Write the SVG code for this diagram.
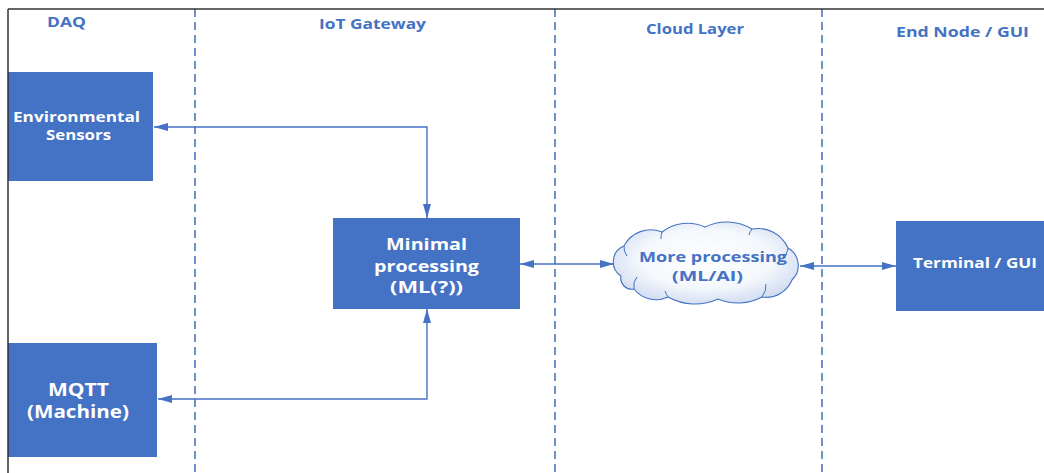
<svg xmlns="http://www.w3.org/2000/svg" width="1044" height="473" viewBox="0 0 1044 473">
  <style>
    .lane { stroke: #3F6DB5; stroke-width: 1.5; stroke-dasharray: 8 5; fill: none; }
    .frame { stroke: #333333; stroke-width: 1.5; fill: none; }
    .hdr { font-family: "Open Sans", "Liberation Sans", sans-serif; font-weight: bold; font-size: 14px; fill: #4472C4; }
    .box { fill: #4472C4; }
    .lbl { font-family: "Open Sans", "Liberation Sans", sans-serif; font-weight: bold; fill: #FFFFFF; }
    .cl { font-family: "Open Sans", "Liberation Sans", sans-serif; font-weight: bold; font-size: 15px; fill: #4472C4; }
    .link { stroke: #4472C4; stroke-width: 1.4; fill: none; marker-start: url(#arr); marker-end: url(#arr); }
    .cloud { fill: url(#cloudFill); stroke: #4472C4; stroke-width: 1.1; }
    .cloudIn { fill: none; stroke: #4472C4; stroke-width: 1; }
  </style>
  <defs>
    <marker id="arr" viewBox="0 0 14 8" refX="14" refY="4" markerWidth="14" markerHeight="8" markerUnits="userSpaceOnUse" orient="auto-start-reverse">
      <path d="M0,0 L14,4 L0,8 z" fill="#4472C4"/>
    </marker>
    <radialGradient id="cloudFill" cx="0.5" cy="0.45" r="0.6">
      <stop offset="0" stop-color="#FFFFFF"/>
      <stop offset="0.6" stop-color="#F4F7FC"/>
      <stop offset="1" stop-color="#CCD9EF"/>
    </radialGradient>
  </defs>

  <rect width="1044" height="473" fill="#FFFFFF"/>

  <!-- swimlane separators -->
  <g id="lanes">
    <line class="lane" x1="195" y1="9" x2="195" y2="473"/>
    <line class="lane" x1="555" y1="9" x2="555" y2="473"/>
    <line class="lane" x1="822" y1="9" x2="822" y2="473"/>
  </g>

  <!-- lane headers -->
  <g id="headers">
    <text class="hdr" x="47" y="27" textLength="39" lengthAdjust="spacingAndGlyphs">DAQ</text>
    <text class="hdr" x="319" y="29" textLength="107" lengthAdjust="spacingAndGlyphs">IoT Gateway</text>
    <text class="hdr" x="646" y="34" textLength="98" lengthAdjust="spacingAndGlyphs">Cloud Layer</text>
    <text class="hdr" x="896" y="37" textLength="133" lengthAdjust="spacingAndGlyphs">End Node / GUI</text>
  </g>

  <!-- connectors -->
  <g id="connectors">
    <path class="link" d="M154,127 H427 V218"/>
    <path class="link" d="M158,399 H427 V309"/>
    <path class="link" d="M520,264 H614"/>
    <path class="link" d="M800,266 H896"/>
  </g>

  <g id="env-sensors">
    <rect class="box" x="8" y="72" width="145" height="109"/>
    <text class="lbl" x="13" y="122" font-size="14.5" textLength="127" lengthAdjust="spacingAndGlyphs">Environmental</text>
    <text class="lbl" x="46" y="140" font-size="14.5" textLength="65" lengthAdjust="spacingAndGlyphs">Sensors</text>
  </g>

  <g id="mqtt-machine">
    <rect class="box" x="8" y="343" width="149" height="114"/>
    <text class="lbl" x="48" y="396" font-size="17" textLength="61" lengthAdjust="spacingAndGlyphs">MQTT</text>
    <text class="lbl" x="27" y="418" font-size="17" textLength="102" lengthAdjust="spacingAndGlyphs">(Machine)</text>
  </g>

  <g id="minimal-processing">
    <rect class="box" x="333" y="218" width="187" height="91"/>
    <text class="lbl" x="386" y="250" font-size="16.5" textLength="81" lengthAdjust="spacingAndGlyphs">Minimal</text>
    <text class="lbl" x="374" y="272" font-size="16.5" textLength="105" lengthAdjust="spacingAndGlyphs">processing</text>
    <text class="lbl" x="390" y="293" font-size="16.5" textLength="73" lengthAdjust="spacingAndGlyphs">(ML(?))</text>
  </g>

  <g id="more-processing">
    <path class="cloud" d="M621,276
      A17,17 0 0 1 624,246
      A30,30 0 0 1 662,232
      A42,42 0 0 1 705,227
      A49,49 0 0 1 752,229
      A33,33 0 0 1 788,248
      A20,20 0 0 1 792,280
      A28,28 0 0 1 762,297
      A51,51 0 0 1 718,299
      A55,55 0 0 1 668,297
      A28,28 0 0 1 634,289
      A11,11 0 0 1 621,276 z"/>
    <!-- inner fold lines of the cloud outline -->
    <path class="cloudIn" d="M624,246 A14,14 0 0 0 627,256"/>
    <path class="cloudIn" d="M662,232 A16,16 0 0 0 661,239"/>
    <path class="cloudIn" d="M752,229 A14,14 0 0 0 749,235"/>
    <path class="cloudIn" d="M788,248 A18,18 0 0 1 782,259"/>
    <path class="cloudIn" d="M762,297 A20,20 0 0 0 766,284"/>
    <path class="cloudIn" d="M668,297 A22,22 0 0 1 665,291"/>
    <path class="cloudIn" d="M634,289 A14,14 0 0 1 637,277"/>
    <text class="cl" x="639" y="262" textLength="148" lengthAdjust="spacingAndGlyphs">More processing</text>
    <text class="cl" x="672" y="281" textLength="71" lengthAdjust="spacingAndGlyphs">(ML/AI)</text>
  </g>

  <g id="terminal-gui">
    <rect class="box" x="896" y="221" width="148" height="90"/>
    <text class="lbl" x="913" y="268" font-size="15" textLength="124" lengthAdjust="spacingAndGlyphs">Terminal / GUI</text>
  </g>

  <!-- page frame -->
  <g id="frame">
    <line class="frame" x1="8" y1="9" x2="1044" y2="9"/>
    <line class="frame" x1="8" y1="9" x2="8" y2="473"/>
  </g>
</svg>
